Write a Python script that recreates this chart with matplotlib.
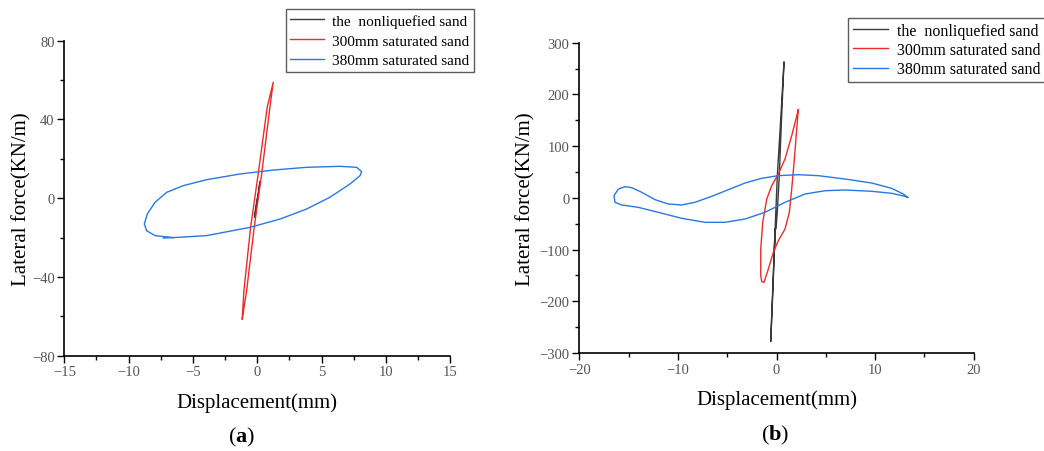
import matplotlib
matplotlib.use("Agg")
import matplotlib.pyplot as plt
from matplotlib.ticker import MultipleLocator

plt.rcParams['font.family'] = ['Liberation Serif', 'DejaVu Serif']
plt.rcParams['axes.unicode_minus'] = True
plt.rcParams['mathtext.fontset'] = 'custom'
plt.rcParams['mathtext.rm'] = 'Liberation Serif'
plt.rcParams['mathtext.bf'] = 'Liberation Serif:bold'

labels = ["the  nonliquefied sand", "300mm saturated sand", "380mm saturated sand"]
colors = ["#3a3a3a", "#ee2a2a", "#2a78e0"]

# Panel (a)
a_black_x = [-0.18, -0.05, 0.1, 0.21, 0.12, -0.05, -0.2, -0.18]
a_black_y = [-9.7, -3.0, 3.0, 8.6, 4.0, -2.0, -8.0, -9.7]
a_red_x = [-1.17, -0.83, -0.24, 0.34, 0.98, 1.24, 0.77, 0.07, -0.52, -1.04, -1.17]
a_red_y = [-61.3, -47.0, -14.8, 12.3, 46.2, 58.9, 46.2, 12.3, -14.8, -47.0, -61.3]
a_blue_x = [-7.3, -6.53, -3.94, -0.57, 1.76, 3.83, 5.65, 7.2, 7.98, 8.11, 7.72,
            6.42, 3.83, 1.24, -1.35, -3.94, -5.75, -7.04, -7.95, -8.55, -8.78,
            -8.6, -7.95, -6.53]
a_blue_y = [-20.2, -20.0, -19.0, -14.8, -10.6, -5.5, 0.5, 7.2, 11.4, 13.5, 15.7,
            16.2, 15.7, 14.3, 12.3, 9.4, 6.4, 3.0, -2.1, -8.0, -13.1,
            -16.5, -19.0, -20.0]

# Panel (b)
b_black_x = [-0.15, -0.35, -0.59, -0.25, 0.08, 0.42, 0.76, 0.5, 0.28, 0.1, -0.05, -0.15, -0.2]
b_black_y = [-60.0, -170.0, -278.0, -110.0, 43.0, 150.0, 263.0, 150.0, 43.0, -20.0, -60.0, -60.0, -100.0]
b_red_x = [2.21, 2.05, 1.81, 1.54, 1.3, 0.86, 0.18, -0.32, -0.83, -1.27, -1.5,
           -1.6, -1.6, -1.4, -0.99, -0.49, 0.18, 0.86, 1.54, 2.21]
b_red_y = [170.5, 133.1, 75.1, 17.1, -28.0, -60.2, -82.8, -105.3, -137.6, -163.3, -162.0,
           -150.5, -98.9, -47.3, -2.2, 23.5, 46.1, 75.1, 120.2, 170.5]
b_blue_x = [13.3, 12.86, 11.68, 9.65, 6.95, 4.24, 2.21, 0.18, -1.5, -3.19, -4.89,
            -6.57, -8.27, -9.61, -10.97, -12.32, -13.67, -14.69, -15.37, -16.04,
            -16.48, -16.38, -15.7, -14.02, -11.99, -9.61, -7.25, -5.22, -3.19,
            -1.17, 0.86, 2.89, 4.92, 6.95, 9.65, 11.68, 13.03, 13.3]
b_blue_y = [1.0, 7.4, 18.4, 28.7, 36.4, 42.9, 44.8, 42.9, 37.8, 28.7, 15.8,
            3.0, -8.6, -13.8, -11.9, -3.5, 10.7, 19.7, 21.6, 17.1,
            4.2, -8.6, -13.8, -18.3, -28.0, -39.6, -47.3, -47.3, -40.9,
            -28.0, -8.6, 7.4, 13.8, 15.2, 12.7, 8.8, 3.0, 1.0]

fig = plt.figure(figsize=(10.44, 4.52), dpi=100)
axa = fig.add_axes([0.0616, 0.2108, 0.3697, 0.6969])
axb = fig.add_axes([0.5549, 0.2168, 0.3778, 0.6865])

def style(ax, xlim, ylim, xmaj, ymaj, ypad):
    ax.set_xlim(*xlim)
    ax.set_ylim(*ylim)
    ax.xaxis.set_major_locator(MultipleLocator(xmaj))
    ax.xaxis.set_minor_locator(MultipleLocator(xmaj / 2))
    ax.yaxis.set_major_locator(MultipleLocator(ymaj))
    ax.yaxis.set_minor_locator(MultipleLocator(ymaj / 2))
    for s in ['top', 'right']:
        ax.spines[s].set_visible(False)
    for s in ['left', 'bottom']:
        ax.spines[s].set_linewidth(1.2)
    ax.tick_params(which='major', direction='out', length=5, width=1,
                   labelsize=10.5, labelcolor='#555555', pad=2)
    ax.tick_params(which='minor', direction='out', length=3, width=1)
    ax.set_xlabel("Displacement(mm)", fontsize=15, labelpad=10)
    ax.set_ylabel("Lateral force(KN/m)", fontsize=15, labelpad=ypad)

lw = 1.0
axa.plot(a_black_x, a_black_y, color=colors[0], lw=lw, label=labels[0])
axa.plot(a_red_x, a_red_y, color=colors[1], lw=lw, label=labels[1])
axa.plot(a_blue_x, a_blue_y, color=colors[2], lw=lw, label=labels[2])
style(axa, (-15, 15), (-80, 80), 5, 40, 0)

axb.plot(b_black_x, b_black_y, color=colors[0], lw=lw, label=labels[0])
axb.plot(b_red_x, b_red_y, color=colors[1], lw=lw, label=labels[1])
axb.plot(b_blue_x, b_blue_y, color=colors[2], lw=lw, label=labels[2])
style(axb, (-20, 20), (-300, 300), 10, 100, 3)

for ax, anchor, fs, ls in [(axa, (0.2735, 0.977), 11, 0.4),
                           (axb, (0.8125, 0.958), 11.5, 0.2)]:
    leg = ax.legend(loc='upper left', bbox_to_anchor=anchor,
                    bbox_transform=fig.transFigure, fontsize=fs,
                    frameon=True, fancybox=False, edgecolor='#333333',
                    handlelength=2.2, handletextpad=0.55, borderpad=0.3,
                    labelspacing=ls, borderaxespad=0)
    leg.get_frame().set_linewidth(1.0)

fig.text(0.2315, 0.033, r"($\mathbf{a}$)", ha='center', va='center', fontsize=16)
fig.text(0.7425, 0.037, r"($\mathbf{b}$)", ha='center', va='center', fontsize=16)

fig.savefig("out.png", dpi=100)
